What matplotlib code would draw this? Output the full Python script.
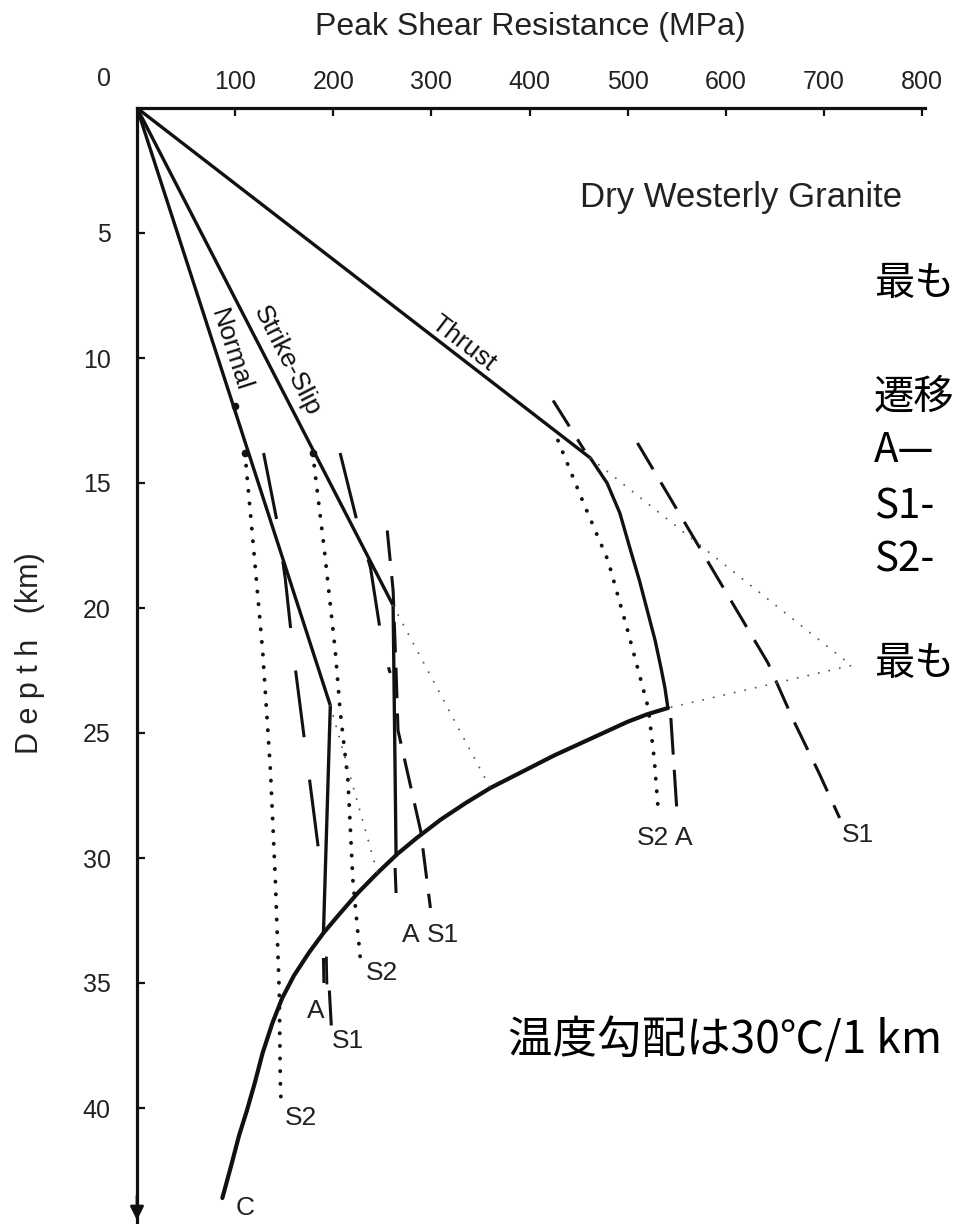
import numpy as np
import matplotlib
matplotlib.use("Agg")
import matplotlib.pyplot as plt

# ---- strength envelopes for dry Westerly granite (shear resistance MPa, depth km) ----
normal_mpa = [0, 197, 190]
normal_depth = [0, 23.9, 33.0]
strike_mpa = [0, 261, 264]
strike_depth = [0, 19.9, 29.9]
thrust_mpa = [0, 462, 479, 492, 503, 512, 520, 528, 534, 538, 541]
thrust_depth = [0, 14.0, 15.0, 16.2, 17.7, 18.9, 20.1, 21.3, 22.4, 23.2, 24.0]

# curve C (lower bound of the brittle field)
c_mpa = [541, 520, 500, 475, 450, 425, 400, 380, 360, 335, 310, 285, 265, 245, 225,
         205, 190, 175, 160, 148, 138, 128, 120, 112, 104, 96, 87]
c_depth = [24.0, 24.25, 24.55, 25.0, 25.45, 25.9, 26.4, 26.8, 27.2, 27.8, 28.45, 29.2,
           29.85, 30.6, 31.4, 32.3, 33.0, 33.8, 34.7, 35.6, 36.6, 37.8, 39.0, 40.1,
           41.1, 42.3, 43.6]

# transition curves A, S1, S2 for each faulting regime
normal_a_mpa = [129, 143, 151, 159, 189]
normal_a_depth = [13.8, 16.6, 18.8, 21.7, 30.9]
normal_a_low_mpa = [190, 190.5]
normal_a_low_depth = [34.0, 35.0]
normal_s1_low_mpa = [196, 198]
normal_s1_low_depth = [35.3, 36.7]
normal_s2_mpa = [110, 119, 128, 136, 141, 145, 146, 147]
normal_s2_depth = [13.8, 17.7, 21.7, 26.5, 30.9, 35.4, 38.9, 40.0]

strike_a_mpa = [207, 224, 238, 251, 258]
strike_a_depth = [13.8, 16.5, 18.4, 21.7, 22.6]
strike_a_low_mpa = [263, 264]
strike_a_low_depth = [30.4, 31.4]
strike_s1_mpa = [255, 261, 264, 266, 289, 299]
strike_s1_depth = [16.9, 19.3, 22.5, 24.9, 28.9, 32.0]
strike_s2_mpa = [179, 191, 202, 207, 215, 220, 228]
strike_s2_depth = [13.8, 17.7, 21.7, 24.1, 26.9, 30.9, 34.2]

thrust_a_mpa = [424, 456]
thrust_a_depth = [11.7, 13.7]
thrust_a_low_mpa = [544, 550]
thrust_a_low_depth = [24.4, 28.0]
thrust_s1_mpa = [510, 575, 643, 669, 695, 716]
thrust_s1_depth = [13.4, 17.7, 22.2, 24.5, 26.6, 28.4]
thrust_s2_mpa = [429, 455, 480, 500, 521, 527, 531]
thrust_s2_depth = [13.3, 15.8, 18.1, 20.9, 24.0, 26.0, 28.0]

# fine dotted extrapolations of the frictional lines
normal_ext_mpa = [197, 245]
normal_ext_depth = [23.9, 30.6]
strike_ext_mpa = [261, 360]
strike_ext_depth = [19.9, 27.2]
thrust_ext_mpa = [462, 728, 541]
thrust_ext_depth = [14.0, 22.3, 24.0]

# small dots where transition curves leave the frictional lines
dot_mpa = [100, 110, 179]
dot_depth = [11.9, 13.8, 13.8]

x_ticks = [100, 200, 300, 400, 500, 600, 700, 800]
y_ticks = [5, 10, 15, 20, 25, 30, 35, 40]

# curve end labels: (text, MPa, depth)
end_labels = [
    ("A", 182, 36.1), ("S1", 215, 37.3), ("S2", 167, 40.4),
    ("S2", 250, 34.6), ("A", 279, 33.1), ("S1", 312, 33.1),
    ("S2", 526, 29.2), ("A", 557, 29.2), ("S1", 735, 29.1),
    ("C", 110, 44.0),
]

notes_right = ["最も", "遷移", "A—", "S1-", "S2-", "最も"]
notes_right_y = [283, 397, 450, 507, 560, 663]
note_gradient = "温度勾配は30℃/1 km"

# ---- figure ----
W, H = 956, 1224
fig = plt.figure(figsize=(W / 100, H / 100), dpi=100)
x_left, x_right = 137, 925
y_top = 108
px_per_km = 25.0
depth_max = 44.6
y_bot = y_top + px_per_km * depth_max
ax = fig.add_axes([x_left / W, 1 - y_bot / H, (x_right - x_left) / W, (y_bot - y_top) / H])
ax.set_xlim(0, 803)
ax.set_ylim(depth_max, 0)

sans = ["Liberation Sans", "DejaVu Sans"]
cjk = ["Noto Sans CJK JP", "DejaVu Sans"]
ink = "#111111"

for s in ("right", "bottom"):
    ax.spines[s].set_visible(False)
for s in ("top", "left"):
    ax.spines[s].set_linewidth(2.3)
    ax.spines[s].set_color(ink)

ax.xaxis.tick_top()
ax.set_xticks(x_ticks)
ax.set_xticklabels([str(v) for v in x_ticks], fontsize=18, family=sans, color="#222")
ax.set_yticks(y_ticks)
ax.set_yticklabels([str(v) for v in y_ticks], fontsize=18, family=sans, color="#222")
ax.tick_params(axis="x", direction="in", length=6, width=1.6, pad=10, colors=ink, labelcolor="#222")
ax.tick_params(axis="y", direction="in", length=6, width=1.6, pad=19, colors=ink, labelcolor="#222")
ax.annotate("0", xy=(0, 0), xytext=(-33, 29), textcoords="offset pixels",
            ha="center", va="center", fontsize=18, family=sans, color="#222",
            annotation_clip=False)

# downward arrow on the depth axis
ax.annotate("", xy=(0, depth_max), xytext=(0, depth_max - 1.2),
            arrowprops=dict(arrowstyle="-|>", color=ink, lw=2.0, mutation_scale=20),
            annotation_clip=False)

solid = dict(color=ink, lw=2.4, solid_capstyle="round", solid_joinstyle="miter")
ax.plot(normal_mpa, normal_depth, **solid)
ax.plot(strike_mpa, strike_depth, **solid)
ax.plot(thrust_mpa, thrust_depth, **solid)
ax.plot(c_mpa, c_depth, color=ink, lw=3.0, solid_capstyle="round", solid_joinstyle="round")

long_dash = dict(color=ink, lw=2.2, ls=(0, (22, 14)), dash_capstyle="butt")
mid_dash = dict(color=ink, lw=2.2, ls=(0, (10, 5)), dash_capstyle="butt")
dots = dict(color=ink, lw=2.8, ls=(0, (0.05, 3.2)), dash_capstyle="round")
fine = dict(color="#555555", lw=1.4, ls=(0, (0.05, 5.5)), dash_capstyle="round")

ax.plot(normal_a_mpa, normal_a_depth, **long_dash)
ax.plot(strike_a_mpa, strike_a_depth, **long_dash)
ax.plot(strike_s1_mpa, strike_s1_depth, **mid_dash)
ax.plot(thrust_a_mpa, thrust_a_depth, **mid_dash)
ax.plot(thrust_s1_mpa, thrust_s1_depth, **mid_dash)

for m, d in ((normal_a_low_mpa, normal_a_low_depth),
             (normal_s1_low_mpa, normal_s1_low_depth),
             (strike_a_low_mpa, strike_a_low_depth)):
    ax.plot(m, d, color=ink, lw=2.2, solid_capstyle="butt")
ax.plot(np.array(normal_a_low_mpa) + 3, normal_a_low_depth, color=ink, lw=2.0)
ax.plot(thrust_a_low_mpa, thrust_a_low_depth, color=ink, lw=2.2, ls=(0, (12, 5)), dash_capstyle="butt")

ax.plot(normal_s2_mpa, normal_s2_depth, **dots)
ax.plot(strike_s2_mpa, strike_s2_depth, **dots)
ax.plot(thrust_s2_mpa, thrust_s2_depth, **dots)

ax.plot(normal_ext_mpa, normal_ext_depth, **fine)
ax.plot(strike_ext_mpa, strike_ext_depth, **fine)
ax.plot(thrust_ext_mpa, thrust_ext_depth, **fine)

ax.plot(dot_mpa, dot_depth, "o", color=ink, ms=4.5, ls="none")


def screen_angle(m0, d0, m1, d1):
    p = ax.transData.transform([(m0, d0), (m1, d1)])
    return np.degrees(np.arctan2(p[1, 1] - p[0, 1], p[1, 0] - p[0, 0]))


ax.text(95, 9.7, "Normal", rotation=screen_angle(0, 0, 197, 23.9), rotation_mode="anchor",
        ha="center", va="center", fontsize=19, family=sans, color=ink)
ax.text(153, 10.1, "Strike-Slip", rotation=screen_angle(0, 0, 261, 19.9), rotation_mode="anchor",
        ha="center", va="center", fontsize=19, family=sans, color=ink)
ax.text(333, 9.4, "Thrust", rotation=screen_angle(0, 0, 462, 14.0), rotation_mode="anchor",
        ha="center", va="center", fontsize=19, family=sans, color=ink)

for txt, m, d in end_labels:
    ax.text(m, d, txt, ha="center", va="center", fontsize=19, family=sans, color="#222")

fig.text(580 / W, 1 - 197 / H, "Dry Westerly Granite", ha="left", va="center",
         fontsize=25, family=sans, color="#222")
fig.text(530 / W, 1 - 27 / H, "Peak Shear Resistance (MPa)", ha="center", va="center",
         fontsize=23, family=sans, color="#222")
fig.text(30 / W, 1 - 653 / H, "D e p t h   (km)", ha="center", va="center", rotation=90,
         fontsize=22, family=sans, color="#222")

for txt, y in zip(notes_right, notes_right_y):
    fig.text(874 / W, 1 - y / H, txt, ha="left", va="center", fontsize=29, family=cjk, color="black")
fig.text(508 / W, 1 - 1040 / H, note_gradient, ha="left", va="center", fontsize=32,
         family=cjk, color="black")

fig.savefig("out.png", dpi=100)
